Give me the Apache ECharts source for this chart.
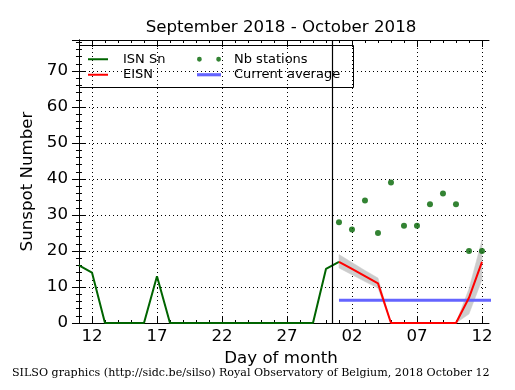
<!DOCTYPE html>
<html><head><meta charset="utf-8">
<script src="https://cdn.jsdelivr.net/npm/echarts@6/dist/echarts.min.js"></script>
<style>html,body{margin:0;padding:0;background:#fff}#c{width:515px;height:390px}</style>
</head><body><div id="c"></div>
<script>
// x = day index counted from 2018 September 11
const isnDays   = [0,1,2,3,4,5,6,7,8,9,10,11,12,13,14,15,16,17,18,19,20];
const isnValues = [16,14,0,0,0,0,13,0,0,0,0,0,0,0,0,0,0,0,0,15,17];
const eisnDays   = [20,21,22,23,24,25,26,27,28,29,30,31];
const eisnValues = [17,15,13,11,0,0,0,0,0,0,7,17];
const bandLow    = [15.3,13.4,11.5,9.7,0,0,0,0,0,0,2.5,12];
const bandHigh   = [19,16.8,14.6,12.5,0,0,0,0,0,0,9.5,23];
const stations   = [28,26,34,25,39,27,27,33,36,33,20,20];
const currentAverage = 6.3;
const avgDays = [20, 32];
const monthBoundary = 19.5;
const tickDays   = [1,6,11,16,21,26,31];
const tickLabels = ['12','17','22','27','02','07','12'];
const allDays = Array.from({length: 32}, (_, i) => i);

const FONT = 'DejaVu Sans';
const FS = 16.67;
const xMin = -0.46, xMax = 31.54, yMax = 78.6;

const pair = (xs, ys) => xs.map((x, i) => [x, ys[i]]);

function xAx(pos, major, labels) {
  return {
    type: 'value', position: pos, min: xMin, max: xMax,
    axisLine: {show: major, lineStyle: {color: '#000', width: 1}},
    axisTick: {show: true, inside: true, length: major ? 7 : 3, customValues: major ? tickDays : allDays,
      lineStyle: {color: '#000', width: 1}},
    axisLabel: labels ? {show: true, customValues: tickDays, margin: 5, color: '#000', fontSize: FS, fontFamily: FONT,
      formatter: v => tickLabels[tickDays.indexOf(Math.round(v))] ?? ''} : {show: false},
    splitLine: {show: labels, lineStyle: {color: '#000', type: [1, 3], width: 1}},
    name: labels ? 'Day of month' : '', nameLocation: 'middle', nameGap: 26,
    nameTextStyle: {color: '#000', fontSize: FS, fontFamily: FONT}
  };
}
function yAx(pos, labels) {
  return {
    type: 'value', position: pos, min: 0, max: yMax, interval: 10,
    axisLine: {show: true, lineStyle: {color: '#000', width: 1}},
    axisTick: {show: true, inside: true, length: 7, lineStyle: {color: '#000'}},
    minorTick: {show: true, splitNumber: 5, length: 3, lineStyle: {color: '#000'}},
    axisLabel: labels ? {show: true, showMaxLabel: false, margin: 5, color: '#000', fontSize: FS, fontFamily: FONT} : {show: false},
    splitLine: {show: labels, lineStyle: {color: '#000', type: [1, 3], width: 1}},
    name: labels ? 'Sunspot Number' : '', nameLocation: 'middle', nameGap: 35,
    nameTextStyle: {color: '#000', fontSize: FS, fontFamily: FONT}
  };
}

const chart = echarts.init(document.getElementById('c'), null, {renderer: 'canvas'});
chart.setOption({
  animation: false,
  backgroundColor: '#fff',
  textStyle: {fontFamily: FONT},
  title: [
    {text: 'September 2018 - October 2018', left: 281, textAlign: 'center', top: 19, padding: 0,
      textStyle: {fontSize: FS, fontWeight: 'normal', color: '#000', fontFamily: FONT}},
    {text: 'SILSO graphics (http://sidc.be/silso) Royal Observatory of Belgium, 2018 October 12', left: 12, top: 368, padding: 0,
      textStyle: {fontSize: 11.1, fontWeight: 'normal', color: '#000', fontFamily: 'DejaVu Serif'}}
  ],
  grid: {left: 73, right: 26, top: 40, bottom: 67, containLabel: false},
  xAxis: [xAx('bottom', true, true), xAx('bottom', false, false), xAx('top', true, false), xAx('top', false, false)],
  yAxis: [yAx('left', true), yAx('right', false)],
  legend: [
    {data: [{name: 'ISN Sn', icon: 'path://M0,0H20V2H0Z'}, {name: 'EISN', icon: 'path://M0,0H20V2H0Z'}],
      orient: 'vertical', left: 88, top: 51.5, padding: 0, itemWidth: 20, itemHeight: 12, itemGap: 0,
      textStyle: {fontSize: 13, lineHeight: 15.5, color: '#000', fontFamily: FONT, padding: [0, 0, 0, 10]}},
    {data: [{name: 'Nb stations', icon: 'path://M0,2.5a2.5,2.5 0 1,0 5,0a2.5,2.5 0 1,0 -5,0M20,2.5a2.5,2.5 0 1,0 5,0a2.5,2.5 0 1,0 -5,0'},
            {name: 'Current average', icon: 'path://M0,0H23V3H0Z'}],
      orient: 'vertical', left: 197, top: 51.5, padding: 0, itemWidth: 24, itemHeight: 12, itemGap: 0,
      textStyle: {fontSize: 13, lineHeight: 15.5, color: '#000', fontFamily: FONT, padding: [0, 0, 0, 8]}}
  ],
  graphic: [{type: 'rect', left: 79, top: 45, shape: {width: 274, height: 42}, z: 100,
    style: {fill: 'transparent', stroke: '#000', lineWidth: 1}}],
  series: [
    {name: 'EISN band', type: 'custom', silent: true, z: 1,
      data: eisnDays.map((x, i) => [x, bandLow[i], bandHigh[i]]),
      renderItem: (params, api) => {
        if (params.dataIndex !== 0) return null;
        const pts = [];
        for (let i = 0; i < eisnDays.length; i++) pts.push(api.coord([eisnDays[i], bandLow[i]]));
        for (let i = eisnDays.length - 1; i >= 0; i--) pts.push(api.coord([eisnDays[i], bandHigh[i]]));
        return {type: 'polygon', shape: {points: pts}, style: {fill: '#cccccc', stroke: '#cccccc', lineWidth: 0.5}};
      }},
    {name: 'ISN Sn', type: 'line', data: pair(isnDays, isnValues), symbol: 'none',
      lineStyle: {color: '#006400', width: 2}, itemStyle: {color: '#006400'}, z: 3,
      markLine: {silent: true, symbol: 'none', label: {show: false},
        lineStyle: {color: '#000', type: 'solid', width: 1.2}, data: [{xAxis: monthBoundary}]}},
    {name: 'EISN', type: 'line', data: pair(eisnDays, eisnValues), symbol: 'none',
      lineStyle: {color: '#ff0000', width: 2}, itemStyle: {color: '#ff0000'}, z: 4},
    {name: 'Current average', type: 'line', data: pair(avgDays, [currentAverage, currentAverage]), symbol: 'none',
      lineStyle: {color: '#6464ff', width: 3}, itemStyle: {color: '#6464ff'}, z: 2},
    {name: 'Nb stations', type: 'scatter', data: pair(eisnDays, stations), symbolSize: 6,
      itemStyle: {color: '#006400'}, z: 5}
  ]
});
</script></body></html>
